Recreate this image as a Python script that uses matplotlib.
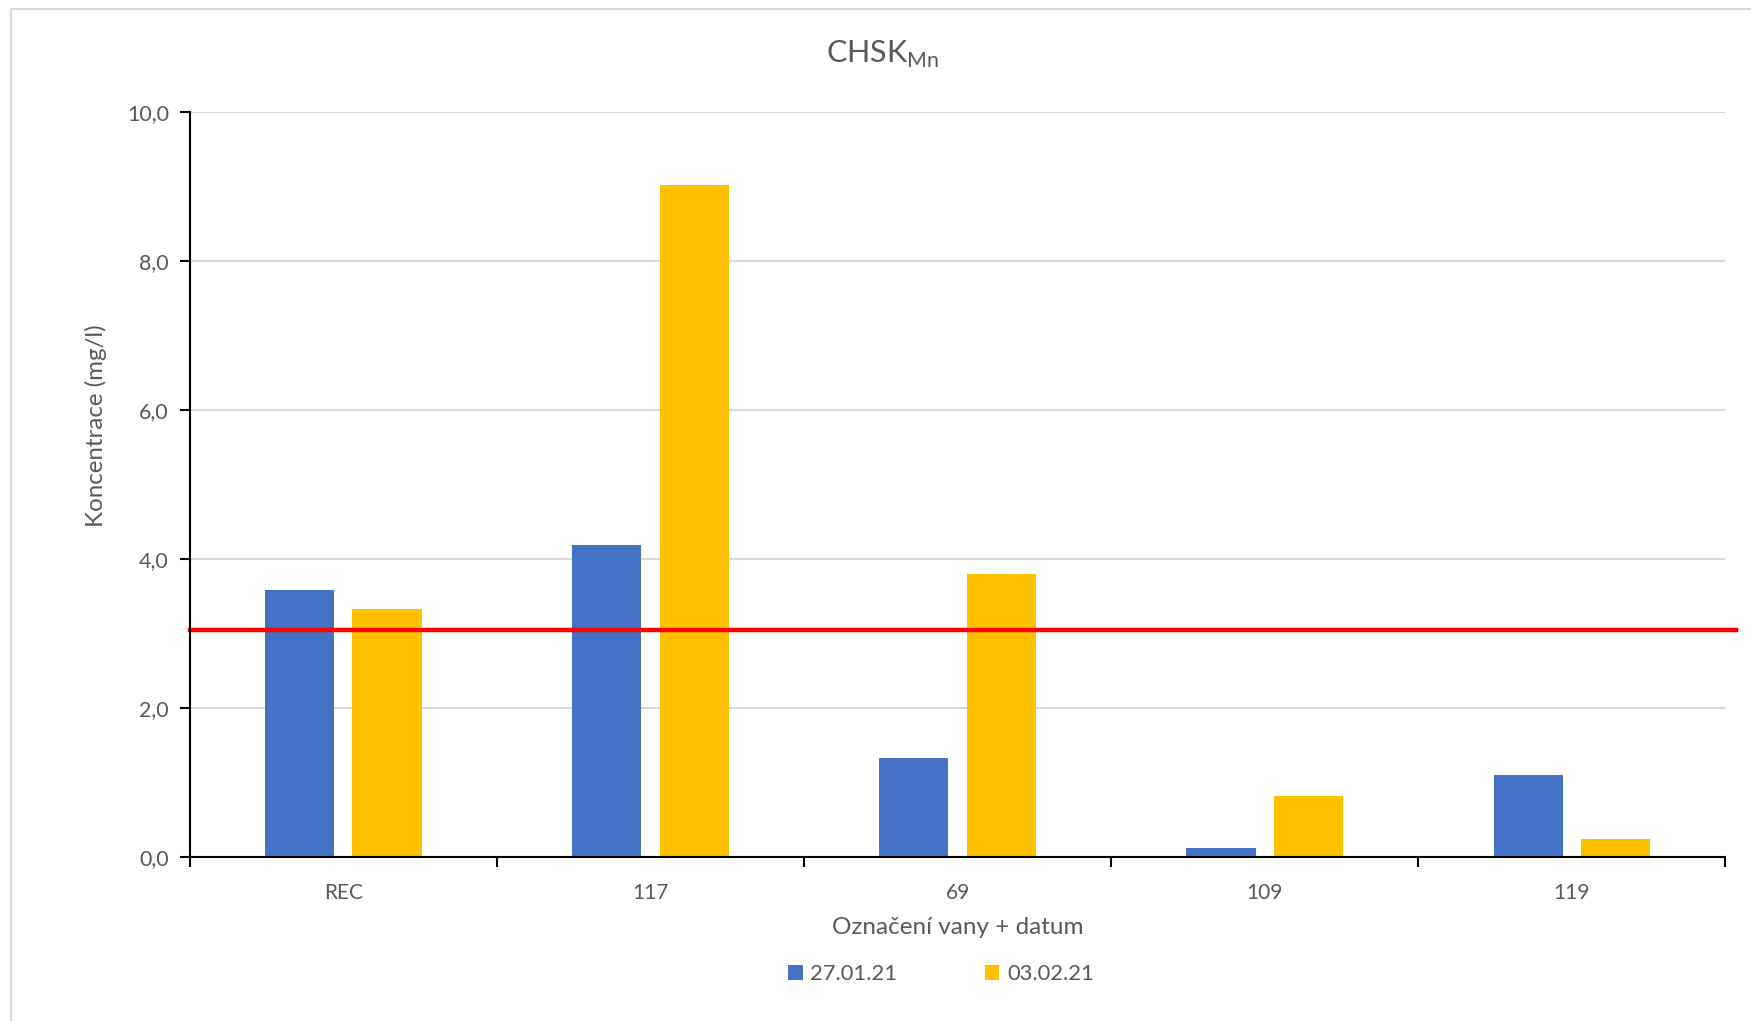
import matplotlib
matplotlib.use("Agg")
import matplotlib.pyplot as plt
from matplotlib.lines import Line2D
from matplotlib.ticker import FixedLocator, FuncFormatter
import numpy as np

plt.rcParams['font.family'] = ['Lato', 'DejaVu Sans']
plt.rcParams['mathtext.fontset'] = 'custom'
plt.rcParams['mathtext.rm'] = 'Lato'

# data
vany = ['REC', '117', '69', '109', '119']
datumy = ['27.01.21', '03.02.21']
hodnoty_2701 = [3.58, 4.18, 1.33, 0.11, 1.09]
hodnoty_0302 = [3.32, 9.02, 3.80, 0.82, 0.23]
limit = 3.04

barvy = ['#4472C4', '#FFC000']
text_col = '#595959'

fig = plt.figure(figsize=(17.51, 10.21), dpi=100)
ax = fig.add_axes([0.1084, 0.161, 0.8769, 0.7296])

x = np.arange(len(vany))
w = 0.225
ax.bar(x - 0.142, hodnoty_2701, w, color=barvy[0], label=datumy[0], zorder=3)
ax.bar(x + 0.142, hodnoty_0302, w, color=barvy[1], label=datumy[1], zorder=3)

# limitni hodnota
ax.axhline(limit, xmin=0, xmax=1.007, color='#FF0000', lw=3.2, zorder=4, clip_on=False)

ax.set_xlim(-0.5, len(vany) - 0.5)
ax.set_ylim(0, 10)
ax.set_yticks(np.arange(0, 10.1, 2))
ax.yaxis.set_major_formatter(FuncFormatter(lambda v, p: f'{v:.1f}'.replace('.', ',')))
ax.grid(axis='y', color='#d9d9d9', lw=1.5, zorder=0)

ax.set_xticks(x)
ax.set_xticklabels(vany)
ax.xaxis.set_minor_locator(FixedLocator(np.arange(-0.5, len(vany), 1)))
ax.tick_params(axis='x', which='major', length=0, pad=19, labelsize=15, labelcolor=text_col)
ax.tick_params(axis='x', which='minor', length=7, width=1.5, direction='out', color='black')
ax.tick_params(axis='y', length=7, width=1.5, direction='out', pad=8, labelsize=15.5, labelcolor=text_col)

for s in ['top', 'right']:
    ax.spines[s].set_visible(False)
for s in ['left', 'bottom']:
    ax.spines[s].set_linewidth(1.5)
    ax.spines[s].set_color('black')
    ax.spines[s].set_zorder(5)

fig.text(0.504, 0.947, r'CHSK$_{\mathrm{Mn}}$', ha='center', va='center', fontsize=22, color=text_col)
fig.text(0.547, 0.092, 'Označení vany + datum', ha='center', va='center', fontsize=17.5, color=text_col)
fig.text(0.055, 0.583, 'Koncentrace (mg/l)', ha='center', va='center', rotation=90, fontsize=17.4, color=text_col)

fig.legend(loc='center', bbox_to_anchor=(0.5375, 0.046), ncol=2, frameon=False, fontsize=15.8,
           handlelength=0.65, handleheight=0.65, handletextpad=0.35, columnspacing=4.0,
           labelcolor=text_col)

# ramecek grafu
fig.add_artist(Line2D([11 / 1751, 1], [1 - 9.5 / 1021] * 2, color='#d9d9d9', lw=1.5))
fig.add_artist(Line2D([11 / 1751] * 2, [0, 1 - 9.5 / 1021], color='#d9d9d9', lw=1.5))

fig.savefig('out.png', dpi=100)
